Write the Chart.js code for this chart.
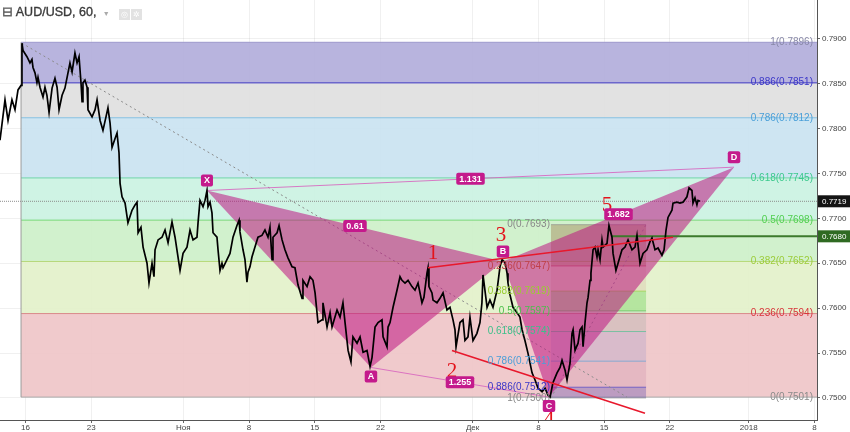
<!DOCTYPE html>
<html>
<head>
<meta charset="utf-8">
<script src="https://cdn.jsdelivr.net/npm/chart.js@4.4.0/dist/chart.umd.min.js"></script>
<style>
  body { margin: 0; background: #fff; }
  #wrap { position: relative; width: 850px; height: 432px; }
  #hdr { position: absolute; left: 2px; top: 4px; font: 12.5px "Liberation Sans", Arial, sans-serif; color: #3a3a3a; white-space: nowrap; -webkit-text-stroke: 0.35px #3a3a3a; }
  #hdr .ic { display: inline-block; width: 11px; height: 11px; background: #e2e2e2; color: #fff; font-size: 8px; line-height: 11px; text-align: center; vertical-align: -1px; margin-left: 1px; -webkit-text-stroke: 0; }
  #hdr .dd { color: #aaa; font-size: 7px; margin: 0 8px 0 3px; -webkit-text-stroke: 0; }
</style>
</head>
<body>
<div id="wrap">
  <canvas id="myChart" width="850" height="432"></canvas>
  <div id="hdr"><span style="color:#777">⊟</span> AUD/USD, 60, <span class="dd">▼</span><span class="ic">◎</span><span class="ic">✲</span></div>
</div>
<script>
// hourly AUD/USD, x = trading days since 16 Oct 2017
const xTickVals = [0, 5, 12, 17, 22, 27, 34, 39, 44, 49, 55, 60];
const xTickLabels = ['16', '23', 'Ноя', '8', '15', '22', 'Дек', '8', '15', '22', '2018', '8'];
const yTickVals = [0.75, 0.755, 0.76, 0.765, 0.77, 0.775, 0.78, 0.785, 0.79];

// [day, price]
const priceSeries = [
  [-1.94,0.7787],[-1.56,0.7832],[-1.33,0.7809],[-1.03,0.7832],[-0.80,0.7821],[-0.57,0.7843],[-0.34,0.7848],
  [-0.27,0.7895],[-0.19,0.7887],[0.11,0.7880],[0.34,0.7873],[0.49,0.7877],[0.57,0.7868],[0.72,0.7862],
  [0.87,0.7851],[0.95,0.7857],[1.10,0.7846],[1.33,0.7835],[1.48,0.7846],[1.63,0.7837],[1.79,0.7818],
  [2.02,0.7845],[2.24,0.7856],[2.40,0.7846],[2.55,0.7821],[2.78,0.7837],[3.00,0.7845],[3.23,0.7862],
  [3.38,0.7873],[3.54,0.7863],[3.76,0.7884],[3.92,0.7873],[4.07,0.7880],[4.22,0.7851],[4.30,0.7830],
  [4.37,0.7851],[4.52,0.7854],[4.68,0.7846],[4.75,0.7821],[5.06,0.7813],[5.29,0.7821],[5.44,0.7832],
  [5.67,0.7809],[5.89,0.7798],[6.12,0.7813],[6.27,0.7823],[6.43,0.7806],[6.58,0.7779],[6.81,0.7789],
  [6.96,0.7795],[7.11,0.7773],[7.19,0.7739],[7.34,0.7724],[7.57,0.7717],[7.79,0.7695],[8.10,0.7709],
  [8.33,0.7715],[8.48,0.7718],[8.56,0.7684],[8.78,0.7690],[8.94,0.7668],[9.24,0.7650],[9.39,0.7628],
  [9.62,0.7650],[9.77,0.7635],[9.85,0.7665],[10.08,0.7676],[10.38,0.7679],[10.61,0.7687],[10.84,0.7673],
  [11.14,0.7696],[11.37,0.7679],[11.75,0.7642],[11.98,0.7661],[12.28,0.7668],[12.51,0.7687],[12.74,0.7676],
  [13.04,0.7679],[13.12,0.7695],[13.27,0.7720],[13.50,0.7713],[13.65,0.7720],[13.80,0.7731],[13.88,0.7713],
  [14.03,0.7718],[14.18,0.7706],[14.26,0.7684],[14.56,0.7679],[14.64,0.7665],[14.79,0.7642],[14.94,0.7650],
  [15.02,0.7645],[15.32,0.7654],[15.55,0.7661],[15.78,0.7679],[16.08,0.7692],[16.24,0.7698],[16.31,0.7685],
  [16.54,0.7665],[16.69,0.7654],[16.84,0.7629],[16.92,0.7640],[17.07,0.7646],[17.22,0.7657],[17.45,0.7668],
  [17.68,0.7679],[17.98,0.7681],[18.21,0.7687],[18.44,0.7679],[18.59,0.7690],[18.75,0.7654],[18.82,0.7679],
  [19.13,0.7684],[19.28,0.7692],[19.51,0.7676],[19.73,0.7665],[19.96,0.7656],[20.27,0.7646],[20.49,0.7645],
  [20.72,0.7626],[21.03,0.7611],[21.10,0.7631],[21.41,0.7624],[21.64,0.7635],[21.86,0.7631],[22.02,0.7617],
  [22.24,0.7584],[22.55,0.7587],[22.62,0.7606],[22.93,0.7579],[23.16,0.7595],[23.31,0.7579],[23.69,0.7598],
  [23.92,0.7590],[24.14,0.7606],[24.30,0.7584],[24.53,0.7553],[24.75,0.7540],[24.90,0.7568],[25.21,0.7561],
  [25.44,0.7568],[25.67,0.7551],[25.97,0.7553],[26.20,0.7535],[26.35,0.7545],[26.58,0.7579],[26.81,0.7584],
  [27.11,0.7587],[27.19,0.7568],[27.49,0.7557],[27.57,0.7579],[27.72,0.7584],[27.95,0.7601],[28.25,0.7620],
  [28.48,0.7635],[28.63,0.7631],[28.86,0.7628],[29.09,0.7631],[29.39,0.7624],[29.62,0.7620],[29.85,0.7628],
  [30.15,0.7606],[30.30,0.7612],[30.53,0.7639],[30.61,0.7645],[30.68,0.7624],[30.91,0.7617],[30.99,0.7609],
  [31.29,0.7606],[31.52,0.7611],[31.75,0.7617],[32.05,0.7598],[32.28,0.7601],[32.51,0.7587],[32.66,0.7576],
  [32.74,0.7557],[33.04,0.7584],[33.27,0.7587],[33.42,0.7564],[33.65,0.7568],[33.80,0.7590],[34.03,0.7564],
  [34.33,0.7572],[34.56,0.7584],[34.71,0.7606],[34.79,0.7637],[34.87,0.7628],[35.10,0.7601],[35.32,0.7609],
  [35.55,0.7601],[35.86,0.7620],[36.08,0.7646],[36.24,0.7654],[36.46,0.7651],[36.62,0.7639],[36.69,0.7628],
  [36.84,0.7615],[37.07,0.7601],[37.38,0.7595],[37.60,0.7590],[37.76,0.7576],[37.98,0.7564],[38.21,0.7550],
  [38.52,0.7528],[38.75,0.7520],[38.97,0.7511],[39.28,0.7507],[39.51,0.7511],[39.73,0.7503],[39.89,0.7501],
  [40.11,0.7517],[40.42,0.7528],[40.65,0.7534],[40.80,0.7542],[41.03,0.7531],[41.18,0.7520],[41.41,0.7539],
  [41.56,0.7572],[41.64,0.7576],[41.79,0.7553],[42.02,0.7561],[42.17,0.7576],[42.32,0.7579],[42.40,0.7557],
  [42.55,0.7584],[42.70,0.7606],[42.78,0.7612],[42.93,0.7631],[43.00,0.7639],[43.16,0.7665],[43.31,0.7668],
  [43.46,0.7657],[43.54,0.7665],[43.69,0.7654],[43.84,0.7676],[43.92,0.7668],[44.22,0.7672],[44.37,0.7692],
  [44.60,0.7679],[44.68,0.7661],[44.90,0.7642],[45.06,0.7650],[45.36,0.7665],[45.59,0.7668],[45.82,0.7676],
  [46.12,0.7665],[46.35,0.7668],[46.50,0.7681],[46.73,0.7650],[46.96,0.7661],[47.26,0.7665],[47.49,0.7674],
  [47.64,0.7678],[47.87,0.7665],[48.10,0.7667],[48.40,0.7659],[48.56,0.7665],[48.71,0.7687],[48.86,0.7701],
  [49.16,0.7709],[49.24,0.7717],[49.54,0.7718],[49.77,0.7717],[50.00,0.7718],[50.30,0.7724],[50.46,0.7734],
  [50.68,0.7731],[50.76,0.7717],[50.91,0.7723],[51.06,0.7715],[51.14,0.7720],[51.29,0.7719]
];
const lastPrice = 0.7719;
const levelPrice = 0.7680;
const levelStart = 44.6;

// big fib retracement
const bigFibStart = -0.34;
const bigFibLevels = [1, 0.886, 0.786, 0.618, 0.5, 0.382, 0.236, 0];
const bigFibPrices = [0.7896, 0.7851, 0.7812, 0.7745, 0.7698, 0.7652, 0.7594, 0.7501];
const bigFibTrend = [[-0.27, 0.7895], [45.74, 0.7501]];

// small fib retracement
const smallFibStart = 39.96;
const smallFibEnd = 47.19;
const smallFibLevels = [0, 0.236, 0.382, 0.5, 0.618, 0.786, 0.886, 1];
const smallFibPrices = [0.7693, 0.7647, 0.7619, 0.7597, 0.7574, 0.7541, 0.7512, 0.7500];

// harmonic XABCD
const patternNames = ['X', 'A', 'B', 'C', 'D'];
const patternT = [13.80, 26.27, 36.31, 39.81, 53.88];
const patternP = [0.7731, 0.7534, 0.7652, 0.7501, 0.7757];
const patternRatios = [['0.61', 0, 2], ['1.131', 0, 4], ['1.255', 1, 3], ['1.682', 2, 4]];

// hand drawn wave count
const waveLines = [[[30.61, 0.7645], [49.24, 0.7679]], [[32.43, 0.7553], [47.11, 0.7483]]];
const waveNames = ['1', '2', '3', '4', '5'];
const waveT = [30.99, 32.43, 36.16, 39.81, 44.22];
const waveP = [0.7661, 0.7530, 0.7681, 0.7476, 0.7714];

// styles
const bigFibFill = ['#b2aedb', '#dfdfdf', '#cae3f1', '#cbf2e2', '#cdf0c9', '#e3f1ca', '#efc6c8'];
const bigFibLine = ['#9c98cc', '#6c67cc', '#86c0e0', '#6fd5a8', '#78d878', '#b6d878', '#d98a8a', '#aaaaaa'];
const bigFibText = ['#8888a8', '#3a36c8', '#4a9fd8', '#3cc98e', '#50cf50', '#9ccc3a', '#d8343a', '#8a8a8a'];
const smallFibFill = ['rgba(150,110,60,0.38)', 'rgba(200,90,90,0.12)', 'rgba(70,200,50,0.3)', 'rgba(90,150,130,0.15)',
  'rgba(90,110,200,0.15)', 'rgba(170,90,140,0.15)', 'rgba(70,50,170,0.3)'];
const smallFibText = ['#888888', '#c0404a', '#9acd32', '#4cbf4c', '#3cc08a', '#4a9fd8', '#3a36c8', '#888888'];
const patternColor = '#c41a8c';

function roundBox(ctx, x, y, w, h, r) {
  ctx.beginPath();
  ctx.moveTo(x + r, y);
  ctx.arcTo(x + w, y, x + w, y + h, r);
  ctx.arcTo(x + w, y + h, x, y + h, r);
  ctx.arcTo(x, y + h, x, y, r);
  ctx.arcTo(x, y, x + w, y, r);
  ctx.closePath();
}

function tag(ctx, text, cx, cy, minW) {
  ctx.font = 'bold 9px "Liberation Sans", Arial, sans-serif';
  const w = Math.max(minW, ctx.measureText(text).width + 6);
  ctx.fillStyle = patternColor;
  roundBox(ctx, cx - w / 2, cy - 6, w, 12, 2);
  ctx.fill();
  ctx.fillStyle = '#fff';
  ctx.textAlign = 'center';
  ctx.textBaseline = 'middle';
  ctx.fillText(text, cx, cy + 0.5);
}

const overlays = {
  id: 'overlays',
  beforeDatasetsDraw(chart) {
    const { ctx, chartArea: a } = chart;
    const X = v => chart.scales.x.getPixelForValue(v);
    const Y = v => chart.scales.y.getPixelForValue(v);
    ctx.save();
    ctx.beginPath();
    ctx.rect(a.left, a.top, a.right - a.left, a.bottom - a.top);
    ctx.clip();

    // big fib bands and lines
    const bx = X(bigFibStart);
    for (let i = 0; i < bigFibPrices.length - 1; i++) {
      const y0 = Y(bigFibPrices[i]), y1 = Y(bigFibPrices[i + 1]);
      ctx.fillStyle = bigFibFill[i];
      ctx.globalAlpha = 0.92;
      ctx.fillRect(bx, y0, a.right - bx, y1 - y0);
    }
    ctx.globalAlpha = 1;
    bigFibPrices.forEach((p, i) => {
      ctx.strokeStyle = bigFibLine[i];
      ctx.lineWidth = i === 1 ? 1.6 : 1;
      ctx.beginPath();
      ctx.moveTo(bx, Y(p));
      ctx.lineTo(a.right, Y(p));
      ctx.stroke();
    });
    ctx.strokeStyle = '#9a9a9a';
    ctx.lineWidth = 1;
    ctx.beginPath();
    ctx.moveTo(bx, Y(bigFibPrices[0]));
    ctx.lineTo(bx, Y(bigFibPrices[bigFibPrices.length - 1]));
    ctx.stroke();

    // small fib
    const sx0 = X(smallFibStart), sx1 = X(smallFibEnd);
    for (let i = 0; i < smallFibPrices.length - 1; i++) {
      const y0 = Y(smallFibPrices[i]), y1 = Y(smallFibPrices[i + 1]);
      ctx.fillStyle = smallFibFill[i];
      ctx.fillRect(sx0, y0, sx1 - sx0, y1 - y0);
    }
    smallFibPrices.forEach((p, i) => {
      ctx.strokeStyle = smallFibText[i];
      ctx.globalAlpha = 0.6;
      ctx.beginPath();
      ctx.moveTo(sx0, Y(p));
      ctx.lineTo(sx1, Y(p));
      ctx.stroke();
    });
    ctx.globalAlpha = 1;

    // dotted trend lines of the fibs
    ctx.setLineDash([2, 3]);
    ctx.strokeStyle = '#8a8a8a';
    ctx.beginPath();
    ctx.moveTo(X(bigFibTrend[0][0]), Y(bigFibTrend[0][1]));
    ctx.lineTo(X(bigFibTrend[1][0]), Y(bigFibTrend[1][1]));
    ctx.moveTo(sx0, Y(smallFibPrices[smallFibPrices.length - 1]));
    ctx.lineTo(sx1, Y(smallFibPrices[0]));
    ctx.stroke();

    // last price line
    ctx.setLineDash([1, 1]);
    ctx.strokeStyle = '#8c8c8c';
    ctx.beginPath();
    ctx.moveTo(a.left, Y(lastPrice));
    ctx.lineTo(a.right, Y(lastPrice));
    ctx.stroke();
    ctx.setLineDash([]);

    // harmonic triangles
    const P = patternT.map((t, i) => [X(t), Y(patternP[i])]);
    ctx.fillStyle = 'rgba(190,20,130,0.55)';
    [[0, 1, 2], [2, 3, 4]].forEach(tri => {
      ctx.beginPath();
      ctx.moveTo(P[tri[0]][0], P[tri[0]][1]);
      ctx.lineTo(P[tri[1]][0], P[tri[1]][1]);
      ctx.lineTo(P[tri[2]][0], P[tri[2]][1]);
      ctx.closePath();
      ctx.fill();
    });
    ctx.strokeStyle = 'rgba(215,100,190,0.85)';
    ctx.lineWidth = 1;
    ctx.beginPath();
    ctx.moveTo(P[0][0], P[0][1]); ctx.lineTo(P[4][0], P[4][1]);
    ctx.moveTo(P[1][0], P[1][1]); ctx.lineTo(P[3][0], P[3][1]);
    ctx.stroke();

    // green level
    ctx.strokeStyle = '#3c7a2c';
    ctx.lineWidth = 2;
    ctx.beginPath();
    ctx.moveTo(X(levelStart), Y(levelPrice));
    ctx.lineTo(a.right, Y(levelPrice));
    ctx.stroke();
    ctx.restore();
  },
  afterDatasetsDraw(chart) {
    const { ctx, chartArea: a } = chart;
    const X = v => chart.scales.x.getPixelForValue(v);
    const Y = v => chart.scales.y.getPixelForValue(v);
    ctx.save();
    ctx.beginPath();
    ctx.rect(a.left, a.top, a.right - a.left, a.bottom - a.top);
    ctx.clip();

    // wave lines
    ctx.strokeStyle = '#e8182c';
    ctx.lineWidth = 1.6;
    waveLines.forEach(l => {
      ctx.beginPath();
      ctx.moveTo(X(l[0][0]), Y(l[0][1]));
      ctx.lineTo(X(l[1][0]), Y(l[1][1]));
      ctx.stroke();
    });

    // fib labels
    ctx.font = '10px "Liberation Sans", Arial, sans-serif';
    ctx.textBaseline = 'middle';
    ctx.textAlign = 'right';
    bigFibLevels.forEach((lv, i) => {
      ctx.fillStyle = bigFibText[i];
      ctx.fillText(lv + '(' + bigFibPrices[i].toFixed(4) + ')', a.right - 4, Y(bigFibPrices[i]));
    });
    smallFibLevels.forEach((lv, i) => {
      ctx.fillStyle = smallFibText[i];
      ctx.fillText(lv + '(' + smallFibPrices[i].toFixed(4) + ')', X(smallFibStart) - 1, Y(smallFibPrices[i]));
    });

    // wave numbers
    ctx.font = '21px "Liberation Serif", "DejaVu Serif", serif';
    ctx.fillStyle = '#e3141c';
    ctx.textAlign = 'center';
    ctx.textBaseline = 'middle';
    waveNames.forEach((n, i) => ctx.fillText(n, X(waveT[i]), Y(waveP[i])));

    // pattern ratios and points
    patternRatios.forEach(r => {
      const cx = (X(patternT[r[1]]) + X(patternT[r[2]])) / 2;
      const cy = (Y(patternP[r[1]]) + Y(patternP[r[2]])) / 2;
      tag(ctx, r[0], cx, cy, 20);
    });
    patternNames.forEach((n, i) => {
      const prev = patternP[i - 1] !== undefined ? patternP[i - 1] : patternP[i + 1];
      const up = patternP[i] > prev;
      tag(ctx, n, X(patternT[i]), Y(patternP[i]) + (up ? -10 : 9), 11);
    });
    ctx.restore();
  },
  afterDraw(chart) {
    const { ctx, chartArea: a } = chart;
    const Y = v => chart.scales.y.getPixelForValue(v);
    ctx.save();
    ctx.font = '8px "Liberation Sans", Arial, sans-serif';
    ctx.textBaseline = 'middle';
    ctx.textAlign = 'left';
    [[lastPrice, '#141414'], [levelPrice, '#2f6a22']].forEach(([p, c]) => {
      const y = Y(p);
      ctx.fillStyle = c;
      ctx.fillRect(a.right + 1, y - 6, 850 - a.right - 1, 12);
      ctx.fillStyle = '#fff';
      ctx.fillText(p.toFixed(4), a.right + 5, y + 0.5);
    });
    ctx.restore();
  }
};

const ctx = document.getElementById('myChart').getContext('2d');
new Chart(ctx, {
  type: 'line',
  data: {
    datasets: [{
      data: priceSeries.map(d => ({ x: d[0], y: d[1] })),
      borderColor: '#000',
      borderWidth: 1.7,
      pointRadius: 0,
      tension: 0,
    }],
  },
  options: {
    responsive: false,
    animation: false,
    layout: { padding: 0 },
    plugins: { legend: { display: false }, tooltip: { enabled: false } },
    scales: {
      x: {
        type: 'linear',
        min: -1.94,
        max: 60.19,
        afterBuildTicks: s => { s.ticks = xTickVals.map(v => ({ value: v })); },
        afterFit: s => { s.height = 12; s.paddingLeft = 0; s.paddingRight = 0; },
        ticks: {
          autoSkip: false, maxRotation: 0, minRotation: 0, padding: 0,
          color: '#444', font: { family: '"Liberation Sans", Arial, sans-serif', size: 8 },
          callback: v => { const i = xTickVals.indexOf(v); return i >= 0 ? xTickLabels[i] : ''; }
        },
        grid: { color: 'rgba(0,0,0,0.06)', tickColor: '#666', tickLength: 3 },
        border: { color: '#555' }
      },
      y: {
        type: 'linear',
        position: 'right',
        min: 0.74755,
        max: 0.79431,
        afterBuildTicks: s => { s.ticks = yTickVals.map(v => ({ value: v })); },
        afterFit: s => { s.width = 33; s.paddingTop = 0; s.paddingBottom = 0; },
        ticks: {
          padding: 2, color: '#444', font: { family: '"Liberation Sans", Arial, sans-serif', size: 8 },
          callback: v => v.toFixed(4)
        },
        grid: { color: 'rgba(0,0,0,0.06)', tickColor: '#666', tickLength: 3 },
        border: { color: '#555' }
      }
    }
  },
  plugins: [overlays]
});
</script>
</body>
</html>
